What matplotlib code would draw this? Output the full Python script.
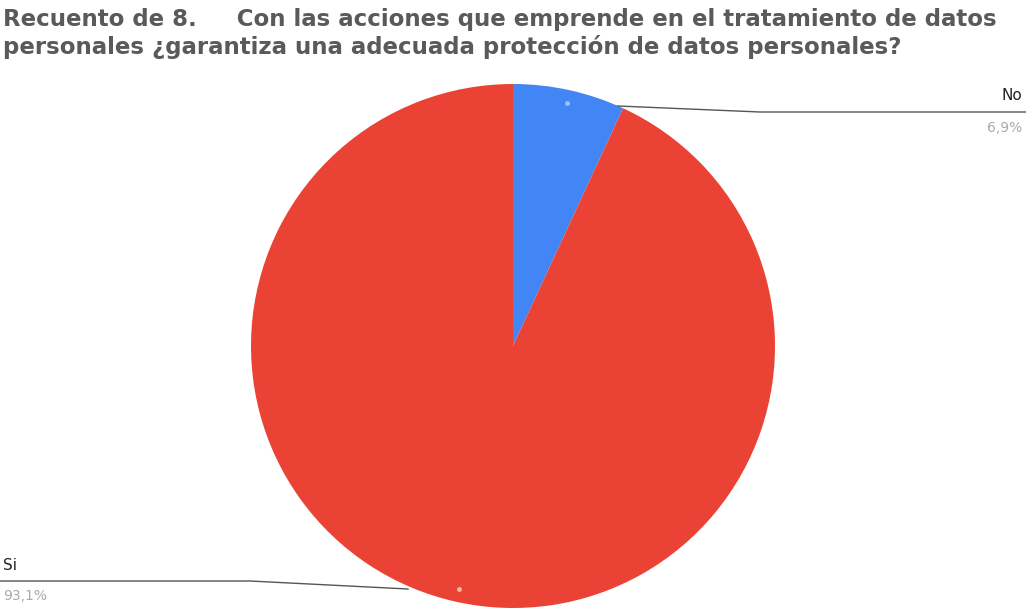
import numpy as np
import matplotlib.pyplot as plt

# Respuestas a la pregunta 8
labels = ["No", "Si"]
counts = [6.9, 93.1]
pct_text = ["6,9%", "93,1%"]
colors = ["#4285F4", "#EA4335"]
title_lines = ["Recuento de 8.     Con las acciones que emprende en el tratamiento de datos",
               "personales \u00bfgarantiza una adecuada protecci\u00f3n de datos personales?"]

W, H = 1026, 609
fig = plt.figure(figsize=(W / 100, H / 100), dpi=100)
ax = fig.add_axes([0, 0, 1, 1])

cx, cy, r = 513, 346, 262
wedges, _ = ax.pie(counts, colors=colors, startangle=90, counterclock=False,
                   center=(cx, cy), radius=r, frame=True,
                   wedgeprops=dict(linewidth=0))
ax.set_xlim(0, W)
ax.set_ylim(H, 0)
ax.set_aspect("equal")
ax.axis("off")

# y axis is flipped, so the wedges are mirrored; redraw angles to keep clockwise from top
for w in wedges:
    t1, t2 = w.theta1, w.theta2
    w.set_theta1(-t2)
    w.set_theta2(-t1)

# puntos en el centro de cada sector, cerca del borde
for w in wedges:
    mid = np.deg2rad((w.theta1 + w.theta2) / 2)
    px = cx + 0.95 * r * np.cos(mid)
    py = cy + 0.95 * r * np.sin(mid)
    ax.plot(px, py, "o", ms=2.5, color="#f5b9a0" if w.get_facecolor()[0] > 0.5 else "#9fc1fa", zorder=5)

# lineas guia
ax.plot([618, 760, W], [106, 112, 112], color="#555555", lw=1)
ax.plot([408, 250, 0], [589, 581, 581], color="#555555", lw=1)

ax.text(1022, 103, labels[0], ha="right", va="bottom", fontsize=11, color="#222222")
ax.text(1022, 121, pct_text[0], ha="right", va="top", fontsize=10, color="#aaaaaa")
ax.text(3, 573, labels[1], ha="left", va="bottom", fontsize=11, color="#222222")
ax.text(3, 589, pct_text[1], ha="left", va="top", fontsize=10, color="#aaaaaa")

for i, line in enumerate(title_lines):
    ax.text(3, 26 + 28 * i, line, ha="left", va="baseline", fontsize=16.5,
            fontweight="bold", color="#5a5a5a", family="DejaVu Sans")

fig.savefig("out.png", dpi=100)
